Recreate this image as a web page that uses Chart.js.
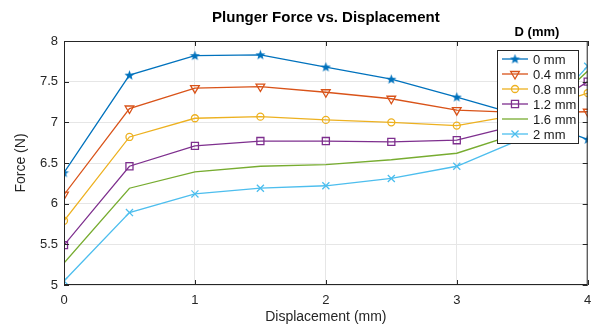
<!DOCTYPE html>
<html>
<head>
<meta charset="utf-8">
<script src="https://cdn.jsdelivr.net/npm/chart.js@4"></script>
<style>
  html, body { margin: 0; padding: 0; background: #fff; }
  #wrap { width: 594px; height: 326px; }
</style>
</head>
<body>
<div id="wrap"><canvas id="c" width="594" height="326"></canvas></div>
<script>
// displacement (mm) on x
var displacement = [0, 0.5, 1, 1.5, 2, 2.5, 3, 3.5, 4];
var seriesLabels = ['0 mm', '0.4 mm', '0.8 mm', '1.2 mm', '1.6 mm', '2 mm'];
// force (N) for each D
var force0 = [6.38, 7.58, 7.82, 7.83, 7.68, 7.53, 7.31, 7.08, 6.79];
var force04 = [6.11, 7.17, 7.42, 7.44, 7.37, 7.29, 7.15, 7.12, 7.13];
var force08 = [5.79, 6.82, 7.05, 7.07, 7.03, 7.00, 6.96, 7.10, 7.36];
var force12 = [5.49, 6.46, 6.71, 6.77, 6.77, 6.76, 6.78, 6.98, 7.50];
var force16 = [5.27, 6.19, 6.39, 6.46, 6.48, 6.54, 6.62, 6.88, 7.63];
var force20 = [5.05, 5.89, 6.12, 6.19, 6.22, 6.31, 6.46, 6.80, 7.69];
var yTicks = [5, 5.5, 6, 6.5, 7, 7.5, 8];

var colors = ['#0072BD', '#D95319', '#EDB120', '#7E2F8E', '#77AC30', '#4DBEEE'];
var FONT = '"Liberation Sans", Arial, sans-serif';

function star(color) {
  var cv = document.createElement('canvas');
  cv.width = 11; cv.height = 11;
  var g = cv.getContext('2d');
  g.fillStyle = color;
  g.beginPath();
  for (var i = 0; i < 10; i++) {
    var r = i % 2 ? 2.2 : 5.3;
    var a = -Math.PI / 2 + i * Math.PI / 5;
    g.lineTo(5.5 + r * Math.cos(a), 5.8 + r * Math.sin(a));
  }
  g.closePath();
  g.fill();
  return cv;
}

function pts(arr) {
  return arr.map(function(v, i){ return {x: displacement[i], y: v}; });
}

var styles = [
  {pointStyle: star(colors[0]), radius: 5, rot: 0},
  {pointStyle: 'triangle', radius: 5, rot: 180},
  {pointStyle: 'circle', radius: 3.5, rot: 0},
  {pointStyle: 'rect', radius: 5, rot: 0},
  {pointStyle: 'circle', radius: 0, rot: 0},
  {pointStyle: 'crossRot', radius: 5, rot: 0}
];
var allForces = [force0, force04, force08, force12, force16, force20];

var datasets = allForces.map(function(f, i){
  return {
    label: seriesLabels[i],
    data: pts(f),
    borderColor: colors[i],
    backgroundColor: 'rgba(0,0,0,0)',
    borderWidth: 1.3,
    pointStyle: styles[i].pointStyle,
    pointRadius: styles[i].radius,
    pointRotation: styles[i].rot,
    pointBorderColor: colors[i],
    pointBackgroundColor: 'rgba(0,0,0,0)',
    pointBorderWidth: 1.3,
    tension: 0
  };
});

// title, plot box and the legend box drawn on top
var decor = {
  id: 'decor',
  afterDraw: function(chart) {
    var ctx = chart.ctx, a = chart.chartArea;
    ctx.save();
    ctx.strokeStyle = '#262626';
    ctx.lineWidth = 1;
    ctx.strokeRect(a.left + 0.5, a.top + 0.5, a.right - a.left - 1, a.bottom - a.top - 1);
    // inward tick marks
    var xs = chart.scales.x, ys = chart.scales.y;
    ctx.beginPath();
    [0,1,2,3,4].forEach(function(v){
      var px = Math.round(xs.getPixelForValue(v)) + 0.5;
      ctx.moveTo(px, a.bottom); ctx.lineTo(px, a.bottom - 5);
      ctx.moveTo(px, a.top); ctx.lineTo(px, a.top + 5);
    });
    yTicks.forEach(function(v){
      var py = Math.round(ys.getPixelForValue(v)) + 0.5;
      ctx.moveTo(a.left, py); ctx.lineTo(a.left + 5, py);
      ctx.moveTo(a.right, py); ctx.lineTo(a.right - 5, py);
    });
    ctx.stroke();

    ctx.fillStyle = '#000';
    ctx.textAlign = 'center';
    ctx.textBaseline = 'middle';
    ctx.font = 'bold 15px ' + FONT;
    ctx.fillText('Plunger Force vs. Displacement', (a.left + a.right) / 2, 18);
    ctx.font = 'bold 13px ' + FONT;
    ctx.fillText('D (mm)', 537, 32);

    // legend
    var lx = 497, ly = 50, lw = 81, lh = 93;
    ctx.fillStyle = '#fff';
    ctx.fillRect(lx, ly, lw, lh);
    ctx.strokeStyle = '#262626';
    ctx.strokeRect(lx + 0.5, ly + 0.5, lw, lh);
    chart.data.datasets.forEach(function(ds, i){
      var y = ly + 9 + i * 15;
      ctx.strokeStyle = ds.borderColor;
      ctx.lineWidth = 1.3;
      ctx.beginPath();
      ctx.moveTo(lx + 5, y); ctx.lineTo(lx + 31, y);
      ctx.stroke();
      if (ds.pointRadius > 0 && Chart.helpers && Chart.helpers.drawPoint) {
        ctx.fillStyle = 'rgba(0,0,0,0)';
        ctx.strokeStyle = ds.borderColor;
        Chart.helpers.drawPoint(ctx, {
          pointStyle: ds.pointStyle, rotation: ds.pointRotation,
          radius: ds.pointRadius, borderWidth: 1.3
        }, lx + 18, y);
      }
      ctx.fillStyle = '#1a1a1a';
      ctx.textAlign = 'left';
      ctx.font = '13px ' + FONT;
      ctx.fillText(ds.label, lx + 36, y + 1);
    });
    ctx.restore();
  }
};

new Chart(document.getElementById('c'), {
  type: 'line',
  data: { datasets: datasets },
  plugins: [decor],
  options: {
    responsive: false,
    animation: false,
    layout: { padding: { top: 41, right: 6, left: 0, bottom: 0 } },
    plugins: { legend: { display: false }, title: { display: false }, tooltip: { enabled: false } },
    scales: {
      x: {
        type: 'linear', min: 0, max: 4,
        afterFit: function(s){ s.height = 41; s.paddingLeft = 0; s.paddingRight = 0; },
        ticks: { stepSize: 1, color: '#262626', font: { family: FONT, size: 13 }, padding: 8 },
        grid: { color: '#e6e6e6', drawTicks: false },
        border: { display: false },
        title: { display: true, text: 'Displacement (mm)', color: '#262626', font: { family: FONT, size: 14 }, padding: { top: 0, bottom: 0 } }
      },
      y: {
        type: 'linear', min: 5, max: 8,
        afterFit: function(s){ s.width = 64; s.paddingTop = 0; s.paddingBottom = 0; },
        afterBuildTicks: function(s){ s.ticks = yTicks.map(function(v){ return {value: v}; }); },
        ticks: { color: '#262626', font: { family: FONT, size: 13 }, padding: 6,
                 callback: function(v){ return String(v); } },
        grid: { color: '#e6e6e6', drawTicks: false },
        border: { display: false },
        title: { display: true, text: 'Force (N)', color: '#262626', font: { family: FONT, size: 14 }, padding: { top: 13, bottom: 0 } }
      }
    }
  }
});
</script>
</body>
</html>
